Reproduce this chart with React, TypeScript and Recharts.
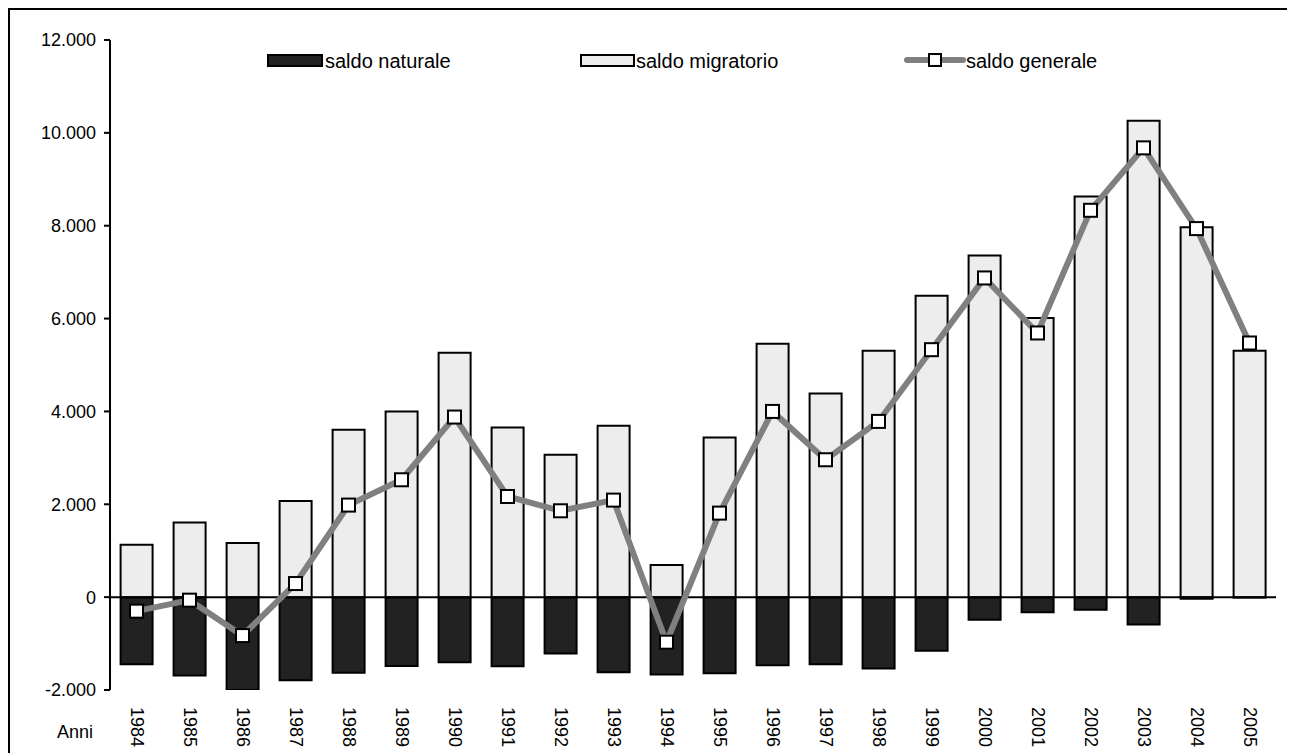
import React from "react";
import { ComposedChart, Bar, Line, XAxis, YAxis, ReferenceLine } from "recharts";

const years = ["1984","1985","1986","1987","1988","1989","1990","1991","1992","1993","1994","1995","1996","1997","1998","1999","2000","2001","2002","2003","2004","2005"];
const saldoNaturale = [-1444,-1690,-1998,-1789,-1631,-1481,-1401,-1487,-1215,-1616,-1668,-1638,-1466,-1444,-1539,-1157,-489,-323,-274,-590,-37,-5];
const saldoMigratorio = [1127,1608,1164,2069,3606,4000,5265,3655,3067,3692,690,3440,5459,4388,5308,6494,7356,6013,8627,10259,7966,5308];
const saldoGenerale = [-302,-65,-828,293,1983,2528,3879,2168,1860,2090,-970,1810,4000,2959,3785,5330,6875,5690,8332,9677,7938,5474];
const yTicks = [-2000,0,2000,4000,6000,8000,10000,12000];
const legendLabels = ["saldo naturale","saldo migratorio","saldo generale"];

const data = years.map((y, i) => ({
  year: y,
  naturale: saldoNaturale[i],
  migratorio: saldoMigratorio[i],
  generale: saldoGenerale[i],
}));

const FONT = "'Liberation Sans', Arial, sans-serif";

const fmt = (v: number) => {
  const s = Math.abs(v).toString().replace(/\B(?=(\d{3})+(?!\d))/g, ".");
  return (v < 0 ? "-" : "") + s;
};

const YearTick = (props: any) => {
  const { x, y, payload } = props;
  return (
    <text
      x={0}
      y={0}
      transform={`translate(${x},${y + 17}) rotate(90)`}
      textAnchor="start"
      dominantBaseline="central"
      fontSize={18}
      fontFamily={FONT}
      fill="#000"
    >
      {payload.value}
    </text>
  );
};

const SquareDot = (props: any) => {
  const { cx, cy, index } = props;
  if (cx == null || cy == null) return null;
  return <rect key={`d${index}`} x={cx - 6.5} y={cy - 6.5} width={13} height={13} fill="#fff" stroke="#000" strokeWidth={2} />;
};

export default function App() {
  return (
    <div
      style={{
        position: "relative",
        width: 1287,
        height: 745,
        borderTop: "2px solid #000",
        borderLeft: "2px solid #000",
        boxSizing: "border-box",
        fontFamily: FONT,
        overflow: "hidden",
      }}
    >
      <ComposedChart
        width={1285}
        height={743}
        data={data}
        margin={{ top: 30, right: 19, bottom: 0, left: 0 }}
        stackOffset="sign"
        barCategoryGap="20%"
      >
        <XAxis
          dataKey="year"
          axisLine={false}
          tickLine={false}
          tickSize={0}
          tickMargin={0}
          height={63}
          interval={0}
          tick={<YearTick />}
        />
        <YAxis
          width={100}
          domain={[-2000, 12000]}
          ticks={yTicks}
          allowDataOverflow
          tickFormatter={fmt}
          axisLine={{ stroke: "#000", strokeWidth: 2 }}
          tickLine={{ stroke: "#000", strokeWidth: 2 }}
          tickSize={6}
          tickMargin={8}
          tick={{ fontSize: 18, fill: "#000", fontFamily: FONT }}
        />
        <Bar dataKey="naturale" stackId="a" fill="#222222" stroke="#000" strokeWidth={2} isAnimationActive={false} />
        <Bar dataKey="migratorio" stackId="a" fill="#ededed" stroke="#000" strokeWidth={2} isAnimationActive={false} />
        <ReferenceLine y={0} stroke="#000" strokeWidth={2} />
        <Line
          dataKey="generale"
          type="linear"
          stroke="#808080"
          strokeWidth={6}
          dot={<SquareDot />}
          activeDot={false}
          isAnimationActive={false}
        />
      </ComposedChart>

      <div style={{ position: "absolute", left: 47, top: 712, fontSize: 18, lineHeight: "20px", color: "#000" }}>Anni</div>

      <div style={{ position: "absolute", left: 0, top: 0, width: "100%", height: 80, pointerEvents: "none" }}>
        <svg width={1285} height={80} style={{ position: "absolute", left: 0, top: 0 }}>
          <rect x={258} y={45} width={54} height={11} fill="#222" stroke="#000" strokeWidth={2} />
          <text x={315} y={51} dominantBaseline="central" fontSize={20} fontFamily={FONT} fill="#000">{legendLabels[0]}</text>
          <rect x={571} y={45} width={53} height={11} fill="#ededed" stroke="#000" strokeWidth={2} />
          <text x={626} y={51} dominantBaseline="central" fontSize={20} fontFamily={FONT} fill="#000">{legendLabels[1]}</text>
          <line x1={897} y1={50} x2={953} y2={50} stroke="#808080" strokeWidth={6} strokeLinecap="round" />
          <rect x={919} y={44} width={12} height={12} fill="#fff" stroke="#000" strokeWidth={2} />
          <text x={956} y={51} dominantBaseline="central" fontSize={20} fontFamily={FONT} fill="#000">{legendLabels[2]}</text>
        </svg>
      </div>
    </div>
  );
}
